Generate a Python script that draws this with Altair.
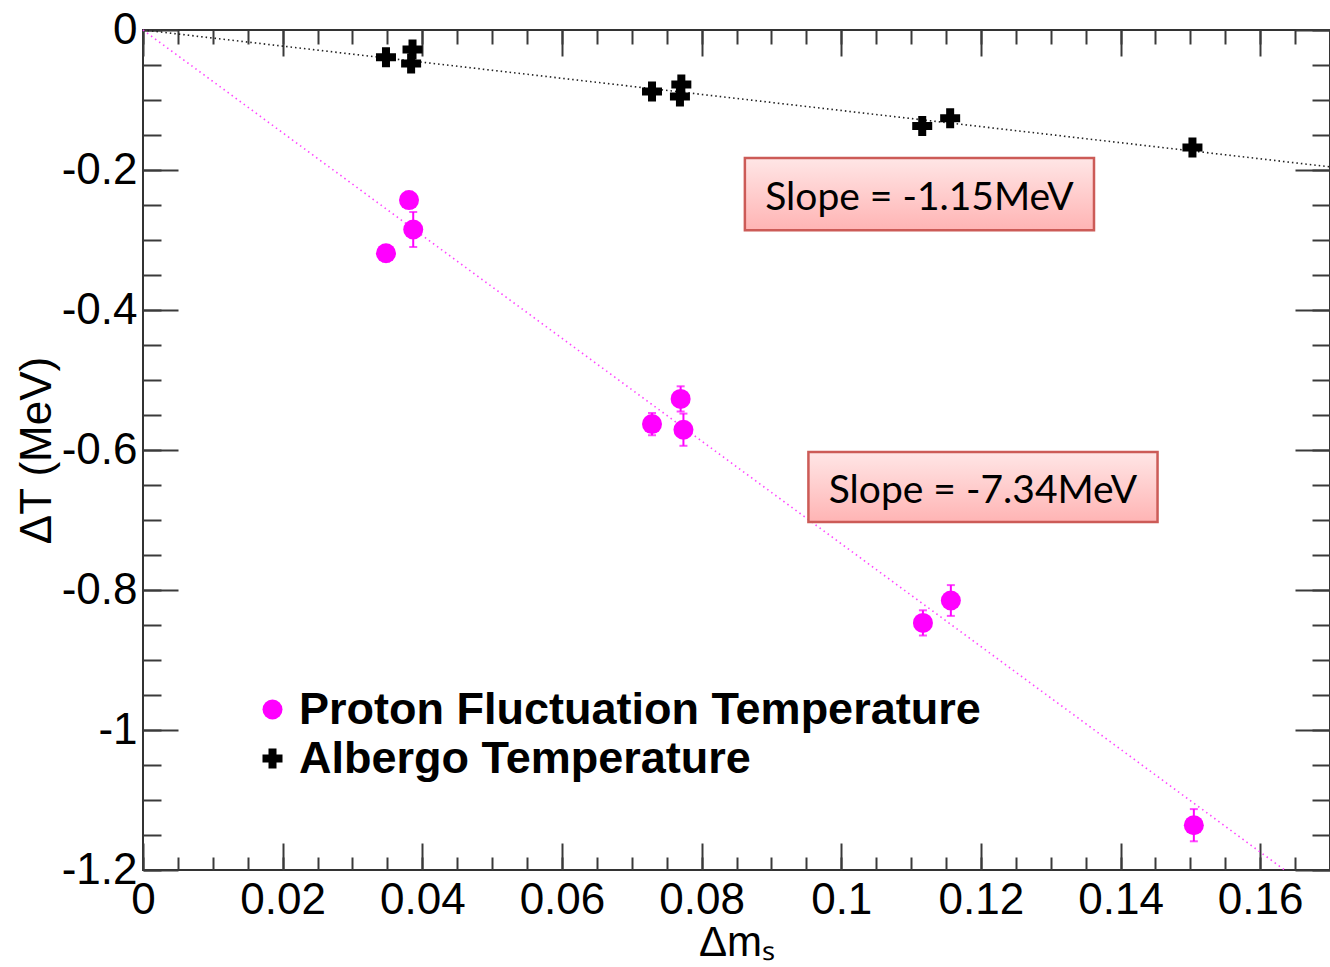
import altair as alt
import pandas as pd

# ---------------- data ----------------
proton_dm = [0.0348, 0.0381, 0.0387, 0.0729, 0.0770, 0.0774, 0.1117, 0.1157, 0.1505]
proton_dT = [-0.319, -0.243, -0.285, -0.563, -0.527, -0.571, -0.847, -0.815, -1.136]
proton_err = [0.012, 0.012, 0.025, 0.016, 0.018, 0.023, 0.018, 0.022, 0.023]

albergo_dm = [0.0348, 0.0386, 0.0384, 0.0729, 0.0771, 0.0769, 0.1116, 0.1156, 0.1503]
albergo_dT = [-0.039, -0.028, -0.048, -0.088, -0.078, -0.095, -0.137, -0.126, -0.168]

series_names = ["Proton Fluctuation Temperature", "Albergo Temperature"]
series_colors = ["#FF00FF", "#000000"]

fit_proton_x = [0.0, 0.1635]
fit_proton_y = [0.0, -1.2]
fit_albergo_x = [0.0, 0.17]
fit_albergo_y = [0.0, -0.1955]

slope_labels = ["Slope = -1.15MeV", "Slope = -7.34MeV"]

x_major = [0, 0.02, 0.04, 0.06, 0.08, 0.1, 0.12, 0.14, 0.16]
x_minor = [round(i * 0.005, 3) for i in range(35)]
y_major = [0, -0.2, -0.4, -0.6, -0.8, -1.0, -1.2]
y_minor = [round(-i * 0.05, 2) for i in range(25)]

# annotation box placement (data coordinates)
box_x1 = [0.0862, 0.0953]
box_x2 = [0.1362, 0.1453]
box_y1 = [-0.183, -0.603]
box_y2 = [-0.286, -0.703]

# ---------------- tables ----------------
pts = pd.DataFrame({
    "dm": proton_dm + albergo_dm,
    "dT": proton_dT + albergo_dT,
    "series": [series_names[0]] * len(proton_dm) + [series_names[1]] * len(albergo_dm),
})
err = pd.DataFrame({
    "dm": proton_dm,
    "lo": [v - e for v, e in zip(proton_dT, proton_err)],
    "hi": [v + e for v, e in zip(proton_dT, proton_err)],
})
fit_p = pd.DataFrame({"dm": fit_proton_x, "dT": fit_proton_y})
fit_a = pd.DataFrame({"dm": fit_albergo_x, "dT": fit_albergo_y})
boxes = pd.DataFrame({
    "x1": box_x1, "x2": box_x2, "y1": box_y1, "y2": box_y2,
    "xc": [(a + b) / 2 for a, b in zip(box_x1, box_x2)],
    "yc": [(a + b) / 2 for a, b in zip(box_y1, box_y2)],
    "label": slope_labels,
})

XS = alt.Scale(domain=[0, 0.17], nice=False, zero=False)
YS = alt.Scale(domain=[-1.2, 0], nice=False, zero=False)

FONT = "Liberation Sans"
TICK = dict(grid=False, domain=False, tickColor="#3a3a3a", tickWidth=2,
            labelFlush=False, labelOverlap=False)

ax_bottom_major = alt.Axis(orient="bottom", values=x_major, offset=-27, tickSize=27,
                           labelPadding=8, labelFont=FONT, labelFontSize=44, labelColor="black",
                           labelExpr="format(datum.value, '~g')",
                           title="Δmₛ", titleFont=FONT, titleFontSize=42, titleFontWeight="normal",
                           titleColor="black", titlePadding=0, **TICK)
ax_bottom_minor = alt.Axis(orient="bottom", values=x_minor, offset=-13, tickSize=13,
                           labels=False, title=None, **TICK)
ax_top_major = alt.Axis(orient="top", values=x_major, offset=-26, tickSize=26,
                        labels=False, title=None, **TICK)
ax_top_minor = alt.Axis(orient="top", values=x_minor, offset=-14, tickSize=14,
                        labels=False, title=None, **TICK)

ax_left_major = alt.Axis(orient="left", values=y_major, offset=-35, tickSize=35,
                         labelPadding=6, labelFont=FONT, labelFontSize=44, labelColor="black",
                         labelExpr="datum.value == 0 ? '0' : '-' + format(abs(datum.value), '~g')",
                         title="ΔT (MeV)", titleFont=FONT, titleFontSize=44, titleFontWeight="normal",
                         titleColor="black", titlePadding=2, **TICK)
ax_left_minor = alt.Axis(orient="left", values=y_minor, offset=-18, tickSize=18,
                         labels=False, title=None, **TICK)
ax_right_major = alt.Axis(orient="right", values=y_major, offset=-35, tickSize=35,
                          labels=False, title=None, **TICK)
ax_right_minor = alt.Axis(orient="right", values=y_minor, offset=-18, tickSize=18,
                          labels=False, title=None, **TICK)

line_a = alt.Chart(fit_a).mark_line(color="#222222", strokeWidth=1.6, strokeDash=[1.5, 3]).encode(
    x=alt.X("dm:Q", scale=XS, axis=ax_bottom_major),
    y=alt.Y("dT:Q", scale=YS, axis=ax_left_major),
)
line_p = alt.Chart(fit_p).mark_line(color="#FF44FF", strokeWidth=1.6, strokeDash=[1.5, 3.5]).encode(
    x=alt.X("dm:Q", scale=XS, axis=ax_bottom_minor),
    y=alt.Y("dT:Q", scale=YS, axis=ax_left_minor),
)

shadow = alt.Chart(boxes).mark_rect(color="#7a7a7a", opacity=0.3, xOffset=3, yOffset=4).encode(
    x=alt.X("x1:Q", scale=XS, axis=ax_top_major), x2="x2:Q",
    y=alt.Y("y1:Q", scale=YS, axis=ax_right_major), y2="y2:Q",
)
grad = alt.Gradient(gradient="linear",
                    stops=[alt.GradientStop(offset=0, color="#FFE6E6"),
                           alt.GradientStop(offset=1, color="#FFB4B4")],
                    x1=0, x2=0, y1=0, y2=1)
box = alt.Chart(boxes).mark_rect(fill=grad, stroke="#CC5B57", strokeWidth=2.5).encode(
    x=alt.X("x1:Q", scale=XS, axis=ax_top_minor), x2="x2:Q",
    y=alt.Y("y1:Q", scale=YS, axis=ax_right_minor), y2="y2:Q",
)
box_text = alt.Chart(boxes).mark_text(font="Lato", fontSize=39, color="black",
                                      align="center", baseline="middle", dy=4).encode(
    x=alt.X("xc:Q", scale=XS, axis=None),
    y=alt.Y("yc:Q", scale=YS, axis=None),
    text="label:N",
)

ebar = alt.Chart(err).mark_rule(color="#FF00FF", strokeWidth=2).encode(
    x=alt.X("dm:Q", scale=XS, axis=None),
    y=alt.Y("lo:Q", scale=YS, axis=None), y2="hi:Q",
)
cap_lo = alt.Chart(err).mark_tick(color="#FF00FF", orient="horizontal", size=8, thickness=2).encode(
    x=alt.X("dm:Q", scale=XS, axis=None),
    y=alt.Y("lo:Q", scale=YS, axis=None),
)
cap_hi = alt.Chart(err).mark_tick(color="#FF00FF", orient="horizontal", size=8, thickness=2).encode(
    x=alt.X("dm:Q", scale=XS, axis=None),
    y=alt.Y("hi:Q", scale=YS, axis=None),
)

legend = alt.Legend(orient="none", legendX=107, legendY=657, title=None,
                    labelFont=FONT, labelFontSize=45, labelFontWeight="bold", labelColor="black",
                    labelLimit=0, symbolSize=200, symbolStrokeWidth=0, labelOffset=4, rowPadding=3)
points = alt.Chart(pts).mark_point(filled=True, opacity=1, strokeWidth=0).encode(
    x=alt.X("dm:Q", scale=XS, axis=None),
    y=alt.Y("dT:Q", scale=YS, axis=None),
    color=alt.Color("series:N", scale=alt.Scale(domain=series_names, range=series_colors),
                    legend=legend),
    shape=alt.Shape("series:N", scale=alt.Scale(domain=series_names, range=["circle", "cross"]),
                    legend=legend),
    size=alt.Size("series:N", scale=alt.Scale(domain=series_names, range=[400, 400]), legend=None),
)

chart = alt.layer(
    line_a, line_p, shadow, box, box_text, ebar, cap_lo, cap_hi, points
).resolve_axis(
    x="independent", y="independent"
).properties(
    width=1187, height=840,
    padding={"left": 143, "top": 30, "right": 0, "bottom": 94},
    autosize=alt.AutoSizeParams(type="none"),
    background="white",
).configure_view(
    stroke="#333333", strokeWidth=2
)

chart.save("out.html", embed_options={"renderer": "svg", "actions": False})
